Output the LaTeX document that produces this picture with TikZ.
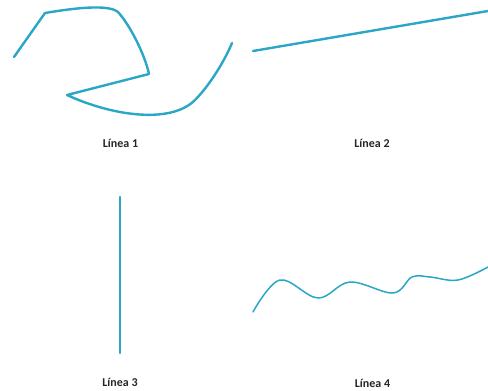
\documentclass[tikz,border=0pt]{standalone}
\usepackage{fontspec}
\setmainfont{Carlito}
\definecolor{linecol}{HTML}{2AA6C6}
\begin{document}
\begin{tikzpicture}[x=1pt,y=-1pt,
  thick line/.style={draw=linecol,line width=2.4pt,line cap=round,line join=round},
  thin line/.style={draw=linecol,line width=1.5pt,line cap=round,line join=round},
  lbl/.style={font=\bfseries\fontsize{12}{14}\selectfont,text=black!85}]
\useasboundingbox (0,0) rectangle (488,391);
% Line 1
\coordinate (a1) at (14,57);
\coordinate (a2) at (45,13);
\coordinate (a3) at (118,12);
\coordinate (a4) at (149,74);
\coordinate (a5) at (67,95);
\coordinate (a6) at (195,100);
\coordinate (a7) at (232,43);
\draw[thick line] (a1) -- (a2) .. controls (75,8) and (108,4) .. (a3)
  .. controls (130,25) and (145,55) .. (a4) -- (a5)
  .. controls (110,115) and (170,125) .. (a6)
  .. controls (210,85) and (225,60) .. (a7);
\node[lbl] (l1) at (120.5,143) {Línea 1};
% Line 2
\coordinate (b1) at (253,51);
\coordinate (b2) at (488,11);
\draw[thick line] (b1) -- (b2);
\node[lbl] (l2) at (372,143) {Línea 2};
% Line 3
\coordinate (c1) at (120,197);
\coordinate (c2) at (120,353);
\draw[thick line] (c1) -- (c2);
\node[lbl] (l3) at (120,382) {Línea 3};
% Line 4
\draw[thin line] plot[smooth,tension=0.6] coordinates {(253,312) (280,280) (318,298) (350,282) (393,293) (412,277) (430,277) (458,280) (488,267)};
\node[lbl] (l4) at (372.5,383) {Línea 4};
\end{tikzpicture}
\end{document}
